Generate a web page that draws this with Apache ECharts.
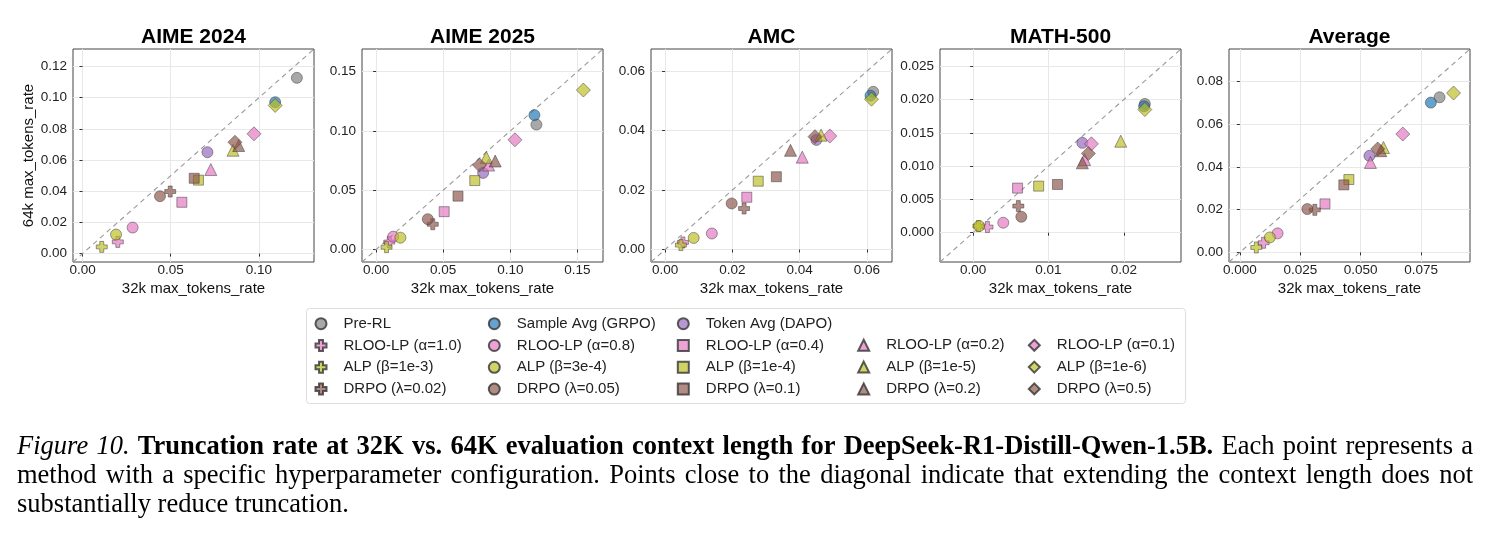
<!DOCTYPE html>
<html><head><meta charset="utf-8">
<script src="https://cdn.jsdelivr.net/npm/echarts@6/dist/echarts.min.js"></script>
<style>html,body{margin:0;padding:0;background:#fff}#c{width:1491px;height:534px}</style>
</head><body><div id="c"></div>
<script>
// ---------------- data ----------------
const panelTitles = ['AIME 2024', 'AIME 2025', 'AMC', 'MATH-500', 'Average'];
const methods = ['Pre-RL', 'Sample Avg (GRPO)', 'Token Avg (DAPO)',
  'RLOO-LP (α=1.0)', 'RLOO-LP (α=0.8)', 'RLOO-LP (α=0.4)', 'RLOO-LP (α=0.2)', 'RLOO-LP (α=0.1)',
  'ALP (β=1e-3)', 'ALP (β=3e-4)', 'ALP (β=1e-4)', 'ALP (β=1e-5)', 'ALP (β=1e-6)',
  'DRPO (λ=0.02)', 'DRPO (λ=0.05)', 'DRPO (λ=0.1)', 'DRPO (λ=0.2)', 'DRPO (λ=0.5)'];

// 32k rate (x) and 64k rate (y), one value per method in the order above
const aime24_32k = [0.1215, 0.1092, 0.0708, 0.0200, 0.0284, 0.0563, 0.0727, 0.0972, 0.0109, 0.0190, 0.0657, 0.0853, 0.1092, 0.0497, 0.0439, 0.0633, 0.0885, 0.0864];
const aime24_64k = [0.1127, 0.0971, 0.0650, 0.0075, 0.0167, 0.0329, 0.0539, 0.0768, 0.0043, 0.0122, 0.0471, 0.0663, 0.0950, 0.0398, 0.0368, 0.0483, 0.0693, 0.0714];
const aime25_32k = [0.1194, 0.1179, 0.0797, 0.0098, 0.0127, 0.0507, 0.0838, 0.1034, 0.0078, 0.0181, 0.0735, 0.0821, 0.1544, 0.0422, 0.0385, 0.0610, 0.0887, 0.0770];
const aime25_64k = [0.1053, 0.1133, 0.0646, 0.0063, 0.0108, 0.0319, 0.0712, 0.0925, 0.0020, 0.0100, 0.0581, 0.0777, 0.1344, 0.0213, 0.0256, 0.0450, 0.0746, 0.0712];
const amc_32k = [0.0619, 0.0611, 0.0450, 0.0053, 0.0139, 0.0243, 0.0408, 0.0490, 0.0047, 0.0085, 0.0277, 0.0464, 0.0614, 0.0235, 0.0198, 0.0331, 0.0373, 0.0446];
const amc_64k = [0.0531, 0.0518, 0.0369, 0.0024, 0.0054, 0.0176, 0.0311, 0.0382, 0.0015, 0.0039, 0.0230, 0.0385, 0.0506, 0.0138, 0.0155, 0.0245, 0.0334, 0.0380];
const math500_32k = [0.0228, 0.0227, 0.0145, 0.0019, 0.0040, 0.0059, 0.0148, 0.0157, 0.0007, 0.0008, 0.0087, 0.0196, 0.0228, 0.0060, 0.0064, 0.0112, 0.0145, 0.0153];
const math500_64k = [0.01935, 0.0190, 0.0135, 0.00085, 0.0015, 0.0067, 0.0110, 0.01335, 0.0010, 0.0010, 0.0070, 0.01375, 0.0185, 0.0040, 0.0024, 0.00725, 0.0105, 0.0119];
const average_32k = [0.0826, 0.0790, 0.0536, 0.0098, 0.0156, 0.0352, 0.0540, 0.0674, 0.0068, 0.0124, 0.0451, 0.0594, 0.0884, 0.0310, 0.0279, 0.0430, 0.0583, 0.0570];
const average_64k = [0.0726, 0.0701, 0.0452, 0.0045, 0.0089, 0.0227, 0.0421, 0.0554, 0.0023, 0.0070, 0.0341, 0.0491, 0.0746, 0.0199, 0.0203, 0.0316, 0.0476, 0.0484];

// tick values per panel
const aime24_xTicks = [0, 0.05, 0.10];
const aime24_yTicks = [0, 0.02, 0.04, 0.06, 0.08, 0.10, 0.12];
const aime25_xTicks = [0, 0.05, 0.10, 0.15];
const aime25_yTicks = [0, 0.05, 0.10, 0.15];
const amc_xTicks = [0, 0.02, 0.04, 0.06];
const amc_yTicks = [0, 0.02, 0.04, 0.06];
const math500_xTicks = [0, 0.01, 0.02];
const math500_yTicks = [0, 0.005, 0.010, 0.015, 0.020, 0.025];
const average_xTicks = [0, 0.025, 0.050, 0.075];
const average_yTicks = [0, 0.02, 0.04, 0.06, 0.08];

const xAxisName = '32k max_tokens_rate';
const yAxisName = '64k max_tokens_rate';

const captionLines = [
  [['Figure 10.', 'i'], ['Truncation rate at 32K vs. 64K evaluation context length for DeepSeek-R1-Distill-Qwen-1.5B.', 'b'], ['Each point represents a', 'r']],
  [['method with a specific hyperparameter configuration. Points close to the diagonal indicate that extending the context length does not', 'r']],
  [['substantially reduce truncation.', 'r']]
];

// ---------------- layout / style ----------------
const panelData = [
  [aime24_32k, aime24_64k, aime24_xTicks, aime24_yTicks, 2, 2, [-0.0054, 0.1312]],
  [aime25_32k, aime25_64k, aime25_xTicks, aime25_yTicks, 2, 2, [-0.0105, 0.1690]],
  [amc_32k, amc_64k, amc_xTicks, amc_yTicks, 2, 2, [-0.0042, 0.0675]],
  [math500_32k, math500_64k, math500_xTicks, math500_yTicks, 2, 3, [-0.0044, 0.0276]],
  [average_32k, average_64k, average_xTicks, average_yTicks, 3, 2, [-0.0045, 0.0952]]
];
const gridLefts = [73, 362, 651, 940, 1229];
const gridTop = 49, gridW = 241, gridH = 213;

const SANS = '"Liberation Sans", Arial, Helvetica, sans-serif';
const SERIF = '"Liberation Serif", "Times New Roman", serif';

const famColor = {
  gray: 'rgba(127,127,127,0.85)', blue: 'rgba(31,119,180,0.85)', purple: 'rgba(148,103,189,0.85)',
  pink: 'rgba(227,119,194,0.85)', olive: 'rgba(188,189,34,0.85)', brown: 'rgba(140,86,75,0.85)'
};
const PLUS = 'path://M3.2,0H6.8V3.2H10V6.8H6.8V10H3.2V6.8H0V3.2H3.2Z';
const shapeList = [PLUS, 'circle', 'rect', 'triangle', 'diamond'];
const shapeSize = {circle: 11, rect: 10, triangle: 12, diamond: 14};
function methodStyle(i) {
  if (i === 0) return [famColor.gray, 'circle'];
  if (i === 1) return [famColor.blue, 'circle'];
  if (i === 2) return [famColor.purple, 'circle'];
  const fam = ['pink', 'olive', 'brown'][Math.floor((i - 3) / 5)];
  return [famColor[fam], shapeList[(i - 3) % 5]];
}

const grids = [], xAxes = [], yAxes = [], series = [], graphics = [];
panelData.forEach((pd, p) => {
  const [xs, ys, xt, yt, xdec, ydec, lim] = pd;
  grids.push({left: gridLefts[p], top: gridTop, width: gridW, height: gridH, show: true,
    borderColor: '#444', borderWidth: 1, backgroundColor: 'transparent'});
  const common = (ticks, dec) => ({
    gridIndex: p, type: 'value', min: lim[0], max: lim[1],
    axisLine: {show: false},
    axisTick: {show: true, length: 3, lineStyle: {color: '#333', width: 1}, customValues: ticks},
    axisLabel: {customValues: ticks, formatter: v => Number(v).toFixed(dec), fontSize: 13.5,
      fontFamily: SANS, color: '#222'},
    splitLine: {show: true, lineStyle: {color: '#e8e8e8', width: 1}, customValues: ticks},
    minorSplitLine: {show: false}
  });
  const xa = common(xt, xdec);
  xa.axisLabel.margin = 1;
  xa.name = xAxisName; xa.nameLocation = 'middle'; xa.nameGap = 19;
  xa.nameTextStyle = {fontSize: 15, fontFamily: SANS, color: '#111'};
  xAxes.push(xa);
  const ya = common(yt, ydec);
  ya.axisLabel.margin = 6;
  if (p === 0) {
    ya.name = yAxisName; ya.nameLocation = 'middle'; ya.nameGap = 37; ya.nameRotate = 90;
    ya.nameTextStyle = {fontSize: 15, fontFamily: SANS, color: '#111'};
  }
  yAxes.push(ya);
  // diagonal y = x across the panel
  series.push({type: 'line', xAxisIndex: p, yAxisIndex: p, data: [[lim[0], lim[0]], [lim[1], lim[1]]],
    symbol: 'none', silent: true, z: 1, animation: false,
    lineStyle: {type: [5, 4], color: '#9a9a9a', width: 1.1}});
  methods.forEach((m, i) => {
    const [col, sym] = methodStyle(i);
    series.push({type: 'scatter', name: m, xAxisIndex: p, yAxisIndex: p,
      data: [[xs[i], ys[i]]], symbol: sym, symbolSize: shapeSize[sym] || 11, z: 3,
      itemStyle: {color: col, borderColor: '#333', borderWidth: 0.6}});
  });
  graphics.push({type: 'text', x: gridLefts[p] + gridW / 2, y: 37, z: 5,
    style: {text: panelTitles[p], align: 'center', verticalAlign: 'middle',
      font: 'bold 21px ' + SANS, fill: '#000'}});
});

// legend: 5 columns
const legendColIdx = [[0, 3, 8, 13], [1, 4, 9, 14], [2, 5, 10, 15], [6, 11, 16], [7, 12, 17]];
const legendMarkerX = [320, 493.3, 682.3, 862.7, 1033.3];
const legendRowY = [323.7, 345.3, 367.0, 389.3];
const legends = legendColIdx.map((idx, c) => ({
  orient: 'vertical', left: legendMarkerX[c] - 5.5,
  top: legendRowY[idx.length === 4 ? 0 : 1] - 7.5,
  padding: 0, itemWidth: 11, itemHeight: 11, itemGap: 6.8, selectedMode: false,
  data: idx.map(i => methods[i]),
  textStyle: {fontSize: 15, fontFamily: SANS, color: '#222', padding: [0, 0, 0, 12]}
}));
graphics.push({type: 'rect', z: 0, shape: {x: 306.5, y: 308.5, width: 879, height: 95, r: 3},
  style: {fill: '#fff', stroke: '#dddddd', lineWidth: 1}});

// caption, justified
const capSize = 26.5, capLeft = 17, capRight = 1473, capY = [447, 476, 505];
const ctx = document.createElement('canvas').getContext('2d');
const fontOf = s => (s === 'i' ? 'italic ' : '') + (s === 'b' ? 'bold ' : '') + capSize + 'px ' + SERIF;
captionLines.forEach((runs, li) => {
  const words = [];
  runs.forEach(([txt, st]) => txt.split(' ').forEach(w => words.push([w, st])));
  const widths = words.map(([w, st]) => { ctx.font = fontOf(st); return ctx.measureText(w).width; });
  const total = widths.reduce((a, b) => a + b, 0);
  const last = li === captionLines.length - 1;
  const gap = last ? capSize * 0.25 : (capRight - capLeft - total) / (words.length - 1);
  let x = capLeft;
  words.forEach(([w, st], k) => {
    graphics.push({type: 'text', x: x, y: capY[li], z: 5,
      style: {text: w, font: fontOf(st), fill: '#000', align: 'left', verticalAlign: 'middle'}});
    x += widths[k] + gap;
  });
});

const chart = echarts.init(document.getElementById('c'), null, {renderer: 'canvas'});
chart.setOption({
  animation: false,
  backgroundColor: '#fff',
  grid: grids, xAxis: xAxes, yAxis: yAxes, series: series,
  legend: legends,
  graphic: {elements: graphics}
});
</script></body></html>
